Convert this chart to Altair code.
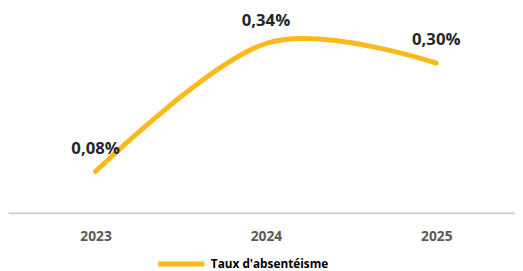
import altair as alt
import pandas as pd

years = [2023, 2024, 2025]
rates = [0.08, 0.34, 0.30]
labels = ["0,08%", "0,34%", "0,30%"]
series = ["Taux d'absentéisme"] * 3

df = pd.DataFrame({"annee": years, "taux": rates, "label": labels, "serie": series})

FONT = "Open Sans"
GOLD = "#FBBA1A"

x = alt.X("annee:Q",
          scale=alt.Scale(domain=[2022.486, 2025.462], nice=False, zero=False),
          axis=alt.Axis(values=years, format="d", title=None, grid=False, ticks=False,
                        domainColor="#d0d0d0", domainWidth=2, labelFont=FONT,
                        labelFontWeight="bold", labelFontSize=14, labelColor="#595959",
                        labelPadding=17))
y = alt.Y("taux:Q", scale=alt.Scale(domain=[-0.004, 0.396], nice=False, zero=False),
          axis=None)

line = alt.Chart(df).mark_line(interpolate="cardinal", strokeWidth=5, strokeCap="round").encode(
    x=x, y=y,
    color=alt.Color("serie:N", scale=alt.Scale(range=[GOLD]),
                    legend=alt.Legend(title=None, orient="none", legendX=150, legendY=226,
                                      symbolType="stroke", symbolSize=2209,
                                      symbolStrokeWidth=5, labelFont=FONT,
                                      labelFontWeight="bold", labelFontSize=12,
                                      labelColor="#000000", labelOffset=4))
)

text = alt.Chart(df).mark_text(dy=-23, font=FONT, fontWeight="bold", fontSize=17,
                               color="#262626").encode(
    x=alt.X("annee:Q"), y=alt.Y("taux:Q"), text="label:N"
)

chart = (line + text).properties(
    width=515, height=200,
    autosize=alt.AutoSizeParams(type="none"),
    padding={"left": 0, "top": 6, "right": 0, "bottom": 56},
).configure_view(stroke=None)

chart.save("out.html", embed_options={"renderer": "svg", "actions": False})
